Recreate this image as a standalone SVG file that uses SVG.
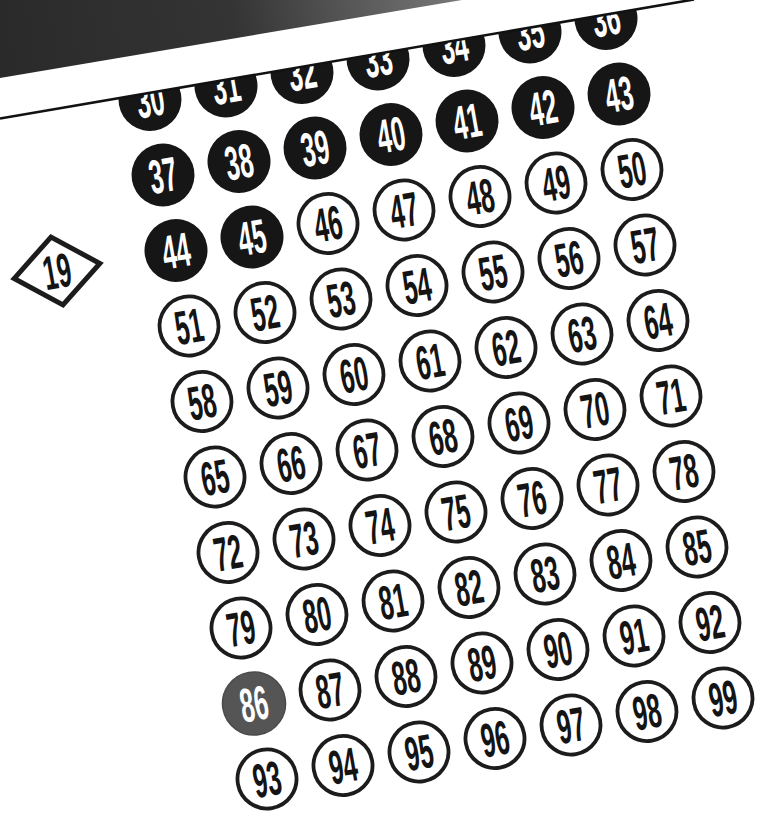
<svg xmlns="http://www.w3.org/2000/svg" width="764" height="818" viewBox="0 0 764 818">
<defs>
<linearGradient id="band" gradientUnits="userSpaceOnUse" x1="0" y1="70" x2="470" y2="-20">
<stop offset="0" stop-color="#2a2a2a"/>
<stop offset="0.5" stop-color="#343434"/>
<stop offset="1" stop-color="#7c7c7c"/>
</linearGradient>
</defs>
<style>
text{font-family:"Liberation Sans",Arial,sans-serif;font-weight:bold;font-size:48px;text-anchor:middle}
.b circle{fill:#161616}
.b text{fill:#ffffff}
.o circle{fill:#ffffff;stroke:#1c1c1c;stroke-width:3.8}
.o text{fill:#141414}
.g circle{fill:#555555;stroke:#4a4a4a;stroke-width:1.5}
.g text{fill:#ffffff}
</style>
<rect width="764" height="818" fill="#ffffff"/>
<g id="connectors"/>
<g id="nodes">
<g id="n19" class="o" transform="translate(57 271) rotate(-10)"><path d="M-43.5,0 L0,-34.5 L43.5,0 L0,34.5 Z" fill="#fff" stroke="#1c1c1c" stroke-width="5"/><text transform="scale(0.52 1)" y="17">19</text></g>
<g id="n30" class="b" transform="translate(150 99.5) rotate(-10)"><circle r="31.5"/><text transform="scale(0.52 1)" y="17">30</text></g>
<g id="n31" class="b" transform="translate(226 86) rotate(-10)"><circle r="31.5"/><text transform="scale(0.52 1)" y="17">31</text></g>
<g id="n32" class="b" transform="translate(302 72.5) rotate(-10)"><circle r="31.5"/><text transform="scale(0.52 1)" y="17">32</text></g>
<g id="n33" class="b" transform="translate(378 59) rotate(-10)"><circle r="31.5"/><text transform="scale(0.52 1)" y="17">33</text></g>
<g id="n34" class="b" transform="translate(454 45.5) rotate(-10)"><circle r="31.5"/><text transform="scale(0.52 1)" y="17">34</text></g>
<g id="n35" class="b" transform="translate(530 32) rotate(-10)"><circle r="31.5"/><text transform="scale(0.52 1)" y="17">35</text></g>
<g id="n36" class="b" transform="translate(606 18.5) rotate(-10)"><circle r="31.5"/><text transform="scale(0.52 1)" y="17">36</text></g>
<g id="n37" class="b" transform="translate(163 175) rotate(-10)"><circle r="31.5"/><text transform="scale(0.52 1)" y="17">37</text></g>
<g id="n38" class="b" transform="translate(239 161.5) rotate(-10)"><circle r="31.5"/><text transform="scale(0.52 1)" y="17">38</text></g>
<g id="n39" class="b" transform="translate(315 148) rotate(-10)"><circle r="31.5"/><text transform="scale(0.52 1)" y="17">39</text></g>
<g id="n40" class="b" transform="translate(391 134.5) rotate(-10)"><circle r="31.5"/><text transform="scale(0.52 1)" y="17">40</text></g>
<g id="n41" class="b" transform="translate(467 121) rotate(-10)"><circle r="31.5"/><text transform="scale(0.52 1)" y="17">41</text></g>
<g id="n42" class="b" transform="translate(543 107.5) rotate(-10)"><circle r="31.5"/><text transform="scale(0.52 1)" y="17">42</text></g>
<g id="n43" class="b" transform="translate(619 94) rotate(-10)"><circle r="31.5"/><text transform="scale(0.52 1)" y="17">43</text></g>
<g id="n44" class="b" transform="translate(176 250.5) rotate(-10)"><circle r="31.5"/><text transform="scale(0.52 1)" y="17">44</text></g>
<g id="n45" class="b" transform="translate(252 237) rotate(-10)"><circle r="31.5"/><text transform="scale(0.52 1)" y="17">45</text></g>
<g id="n46" class="o" transform="translate(328 223.5) rotate(-10)"><circle r="29.5"/><text transform="scale(0.52 1)" y="17">46</text></g>
<g id="n47" class="o" transform="translate(404 210) rotate(-10)"><circle r="29.5"/><text transform="scale(0.52 1)" y="17">47</text></g>
<g id="n48" class="o" transform="translate(480 196.5) rotate(-10)"><circle r="29.5"/><text transform="scale(0.52 1)" y="17">48</text></g>
<g id="n49" class="o" transform="translate(556 183) rotate(-10)"><circle r="29.5"/><text transform="scale(0.52 1)" y="17">49</text></g>
<g id="n50" class="o" transform="translate(632 169.5) rotate(-10)"><circle r="29.5"/><text transform="scale(0.52 1)" y="17">50</text></g>
<g id="n51" class="o" transform="translate(189 326) rotate(-10)"><circle r="29.5"/><text transform="scale(0.52 1)" y="17">51</text></g>
<g id="n52" class="o" transform="translate(265 312.5) rotate(-10)"><circle r="29.5"/><text transform="scale(0.52 1)" y="17">52</text></g>
<g id="n53" class="o" transform="translate(341 299) rotate(-10)"><circle r="29.5"/><text transform="scale(0.52 1)" y="17">53</text></g>
<g id="n54" class="o" transform="translate(417 285.5) rotate(-10)"><circle r="29.5"/><text transform="scale(0.52 1)" y="17">54</text></g>
<g id="n55" class="o" transform="translate(493 272) rotate(-10)"><circle r="29.5"/><text transform="scale(0.52 1)" y="17">55</text></g>
<g id="n56" class="o" transform="translate(569 258.5) rotate(-10)"><circle r="29.5"/><text transform="scale(0.52 1)" y="17">56</text></g>
<g id="n57" class="o" transform="translate(645 245) rotate(-10)"><circle r="29.5"/><text transform="scale(0.52 1)" y="17">57</text></g>
<g id="n58" class="o" transform="translate(202 401.5) rotate(-10)"><circle r="29.5"/><text transform="scale(0.52 1)" y="17">58</text></g>
<g id="n59" class="o" transform="translate(278 388) rotate(-10)"><circle r="29.5"/><text transform="scale(0.52 1)" y="17">59</text></g>
<g id="n60" class="o" transform="translate(354 374.5) rotate(-10)"><circle r="29.5"/><text transform="scale(0.52 1)" y="17">60</text></g>
<g id="n61" class="o" transform="translate(430 361) rotate(-10)"><circle r="29.5"/><text transform="scale(0.52 1)" y="17">61</text></g>
<g id="n62" class="o" transform="translate(506 347.5) rotate(-10)"><circle r="29.5"/><text transform="scale(0.52 1)" y="17">62</text></g>
<g id="n63" class="o" transform="translate(582 334) rotate(-10)"><circle r="29.5"/><text transform="scale(0.52 1)" y="17">63</text></g>
<g id="n64" class="o" transform="translate(658 320.5) rotate(-10)"><circle r="29.5"/><text transform="scale(0.52 1)" y="17">64</text></g>
<g id="n65" class="o" transform="translate(215 477) rotate(-10)"><circle r="29.5"/><text transform="scale(0.52 1)" y="17">65</text></g>
<g id="n66" class="o" transform="translate(291 463.5) rotate(-10)"><circle r="29.5"/><text transform="scale(0.52 1)" y="17">66</text></g>
<g id="n67" class="o" transform="translate(367 450) rotate(-10)"><circle r="29.5"/><text transform="scale(0.52 1)" y="17">67</text></g>
<g id="n68" class="o" transform="translate(443 436.5) rotate(-10)"><circle r="29.5"/><text transform="scale(0.52 1)" y="17">68</text></g>
<g id="n69" class="o" transform="translate(519 423) rotate(-10)"><circle r="29.5"/><text transform="scale(0.52 1)" y="17">69</text></g>
<g id="n70" class="o" transform="translate(595 409.5) rotate(-10)"><circle r="29.5"/><text transform="scale(0.52 1)" y="17">70</text></g>
<g id="n71" class="o" transform="translate(671 396) rotate(-10)"><circle r="29.5"/><text transform="scale(0.52 1)" y="17">71</text></g>
<g id="n72" class="o" transform="translate(228 552.5) rotate(-10)"><circle r="29.5"/><text transform="scale(0.52 1)" y="17">72</text></g>
<g id="n73" class="o" transform="translate(304 539) rotate(-10)"><circle r="29.5"/><text transform="scale(0.52 1)" y="17">73</text></g>
<g id="n74" class="o" transform="translate(380 525.5) rotate(-10)"><circle r="29.5"/><text transform="scale(0.52 1)" y="17">74</text></g>
<g id="n75" class="o" transform="translate(456 512) rotate(-10)"><circle r="29.5"/><text transform="scale(0.52 1)" y="17">75</text></g>
<g id="n76" class="o" transform="translate(532 498.5) rotate(-10)"><circle r="29.5"/><text transform="scale(0.52 1)" y="17">76</text></g>
<g id="n77" class="o" transform="translate(608 485) rotate(-10)"><circle r="29.5"/><text transform="scale(0.52 1)" y="17">77</text></g>
<g id="n78" class="o" transform="translate(684 471.5) rotate(-10)"><circle r="29.5"/><text transform="scale(0.52 1)" y="17">78</text></g>
<g id="n79" class="o" transform="translate(241 628) rotate(-10)"><circle r="29.5"/><text transform="scale(0.52 1)" y="17">79</text></g>
<g id="n80" class="o" transform="translate(317 614.5) rotate(-10)"><circle r="29.5"/><text transform="scale(0.52 1)" y="17">80</text></g>
<g id="n81" class="o" transform="translate(393 601) rotate(-10)"><circle r="29.5"/><text transform="scale(0.52 1)" y="17">81</text></g>
<g id="n82" class="o" transform="translate(469 587.5) rotate(-10)"><circle r="29.5"/><text transform="scale(0.52 1)" y="17">82</text></g>
<g id="n83" class="o" transform="translate(545 574) rotate(-10)"><circle r="29.5"/><text transform="scale(0.52 1)" y="17">83</text></g>
<g id="n84" class="o" transform="translate(621 560.5) rotate(-10)"><circle r="29.5"/><text transform="scale(0.52 1)" y="17">84</text></g>
<g id="n85" class="o" transform="translate(697 547) rotate(-10)"><circle r="29.5"/><text transform="scale(0.52 1)" y="17">85</text></g>
<g id="n86" class="g" transform="translate(254 703.5) rotate(-10)"><circle r="31.5"/><text transform="scale(0.52 1)" y="17">86</text></g>
<g id="n87" class="o" transform="translate(330 690) rotate(-10)"><circle r="29.5"/><text transform="scale(0.52 1)" y="17">87</text></g>
<g id="n88" class="o" transform="translate(406 676.5) rotate(-10)"><circle r="29.5"/><text transform="scale(0.52 1)" y="17">88</text></g>
<g id="n89" class="o" transform="translate(482 663) rotate(-10)"><circle r="29.5"/><text transform="scale(0.52 1)" y="17">89</text></g>
<g id="n90" class="o" transform="translate(558 649.5) rotate(-10)"><circle r="29.5"/><text transform="scale(0.52 1)" y="17">90</text></g>
<g id="n91" class="o" transform="translate(634 636) rotate(-10)"><circle r="29.5"/><text transform="scale(0.52 1)" y="17">91</text></g>
<g id="n92" class="o" transform="translate(710 622.5) rotate(-10)"><circle r="29.5"/><text transform="scale(0.52 1)" y="17">92</text></g>
<g id="n93" class="o" transform="translate(267 779) rotate(-10)"><circle r="29.5"/><text transform="scale(0.52 1)" y="17">93</text></g>
<g id="n94" class="o" transform="translate(343 765.5) rotate(-10)"><circle r="29.5"/><text transform="scale(0.52 1)" y="17">94</text></g>
<g id="n95" class="o" transform="translate(419 752) rotate(-10)"><circle r="29.5"/><text transform="scale(0.52 1)" y="17">95</text></g>
<g id="n96" class="o" transform="translate(495 738.5) rotate(-10)"><circle r="29.5"/><text transform="scale(0.52 1)" y="17">96</text></g>
<g id="n97" class="o" transform="translate(571 725) rotate(-10)"><circle r="29.5"/><text transform="scale(0.52 1)" y="17">97</text></g>
<g id="n98" class="o" transform="translate(647 711.5) rotate(-10)"><circle r="29.5"/><text transform="scale(0.52 1)" y="17">98</text></g>
<g id="n99" class="o" transform="translate(723 698) rotate(-10)"><circle r="29.5"/><text transform="scale(0.52 1)" y="17">99</text></g>
</g>
<g id="header">
<polygon points="0,0 694,0 0,118.5" fill="#ffffff"/>
<polygon points="0,0 462,0 0,78" fill="url(#band)"/>
<line x1="0" y1="118.5" x2="694" y2="-0.5" stroke="#111111" stroke-width="2.6"/>
</g>
</svg>
